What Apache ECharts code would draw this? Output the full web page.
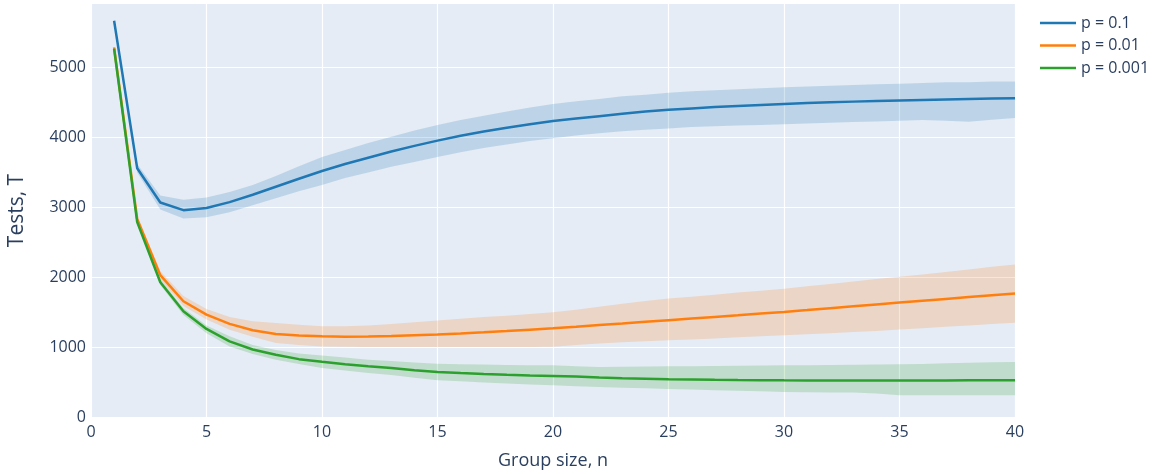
<!DOCTYPE html>
<html>
<head>
<meta charset="utf-8">
<title>Tests vs group size</title>
<script src="https://cdn.jsdelivr.net/npm/echarts@6/dist/echarts.min.js"></script>
<style>
  html, body { margin: 0; padding: 0; background: #ffffff; }
  #chart { width: 1158px; height: 474px; }
</style>
</head>
<body>
<div id="chart"></div>
<script>
// Group sizes n = 1 … 40
const groupSizes = [1,2,3,4,5,6,7,8,9,10,11,12,13,14,15,16,17,18,19,20,
                    21,22,23,24,25,26,27,28,29,30,31,32,33,34,35,36,37,38,39,40];

// p = 0.1 : mean number of tests and spread band
const meanP1 = [5670,3560,3070,2960,2990,3075,3180,3295,3410,3520,3620,3710,3800,3880,3955,4025,4085,4140,4190,4235,
                4270,4305,4340,4370,4395,4415,4435,4450,4465,4480,4492,4503,4513,4522,4530,4538,4545,4552,4557,4562];
const upperP1 = [5685,3620,3170,3110,3140,3220,3320,3450,3590,3720,3820,3920,4010,4100,4180,4250,4310,4370,4430,4480,
                 4520,4550,4590,4610,4640,4660,4675,4690,4705,4720,4730,4740,4750,4760,4770,4780,4790,4790,4800,4800];
const lowerP1 = [5655,3500,2970,2840,2860,2930,3030,3130,3230,3320,3420,3500,3580,3650,3720,3790,3850,3900,3950,3990,
                 4030,4060,4090,4110,4130,4150,4160,4170,4180,4190,4200,4210,4220,4230,4240,4250,4240,4225,4255,4280];

// p = 0.01
const meanP01 = [5290,2835,2030,1656,1465,1332,1241,1189,1165,1155,1150,1152,1160,1170,1180,1195,1212,1230,1250,1270,
                 1292,1315,1338,1362,1385,1408,1431,1455,1480,1504,1530,1557,1584,1611,1638,1664,1690,1716,1742,1768];
const upperP01 = [5300,2870,2090,1730,1546,1430,1370,1346,1320,1300,1300,1310,1330,1355,1380,1405,1430,1450,1475,1500,
                  1535,1576,1620,1660,1695,1720,1750,1780,1805,1834,1870,1905,1940,1975,2006,2040,2075,2110,2150,2182];
const lowerP01 = [5280,2800,1970,1590,1394,1250,1150,1060,1030,1010,1005,1000,1000,1000,1000,1000,1000,1000,1000,1005,
                  1030,1051,1070,1085,1098,1110,1125,1140,1155,1170,1185,1200,1215,1230,1251,1270,1290,1310,1330,1347];

// p = 0.001
const meanP001 = [5270,2788,1928,1513,1260,1083,966,890,828,790,755,725,700,670,645,630,617,605,595,587,
                  578,565,556,548,540,536,532,529,527,525,524,523,523,523,523,524,524,525,525,526];
const upperP001 = [5280,2810,1970,1560,1310,1155,1030,960,910,880,850,820,800,780,763,755,750,745,742,739,
                   728,716,720,724,726,728,730,732,736,740,742,745,748,752,755,760,770,778,784,788];
const lowerP001 = [5260,2760,1890,1460,1200,1010,900,820,760,700,665,630,600,560,525,510,495,480,465,453,
                   440,430,420,410,400,392,384,376,367,358,355,352,350,335,312,310,310,310,310,310];

const seriesNames = ['p = 0.1', 'p = 0.01', 'p = 0.001'];
const lineColors = ['#1f77b4', '#ff7f0e', '#2ca02c'];
const bandColors = ['rgba(31,119,180,0.2)', 'rgba(255,127,14,0.2)', 'rgba(44,160,44,0.2)'];

const xTicks = [0, 5, 10, 15, 20, 25, 30, 35, 40];
const yTicks = [0, 1000, 2000, 3000, 4000, 5000];

const pairs = (ys) => groupSizes.map((n, i) => [n, ys[i]]);

// Shaded band: one polygon running along the upper edge and back along the lower edge
function band(lower, upper, color) {
  return {
    type: 'custom',
    silent: true,
    z: 1,
    data: groupSizes.map((n, i) => [n, lower[i], upper[i]]),
    encode: { x: 0, y: [1, 2] },
    renderItem: function (params, api) {
      if (params.dataIndex !== 0) return null;
      const pts = [];
      for (let i = 0; i < groupSizes.length; i++) pts.push(api.coord([groupSizes[i], upper[i]]));
      for (let i = groupSizes.length - 1; i >= 0; i--) pts.push(api.coord([groupSizes[i], lower[i]]));
      return {
        type: 'polygon',
        shape: { points: pts },
        style: { fill: color, stroke: null }
      };
    }
  };
}

function meanLine(name, values, color) {
  return {
    name: name, type: 'line', data: pairs(values), symbol: 'none',
    lineStyle: { width: 2.5, color: color }, itemStyle: { color: color }, z: 3
  };
}

const textColor = '#2a3f5f';
const font = '"Open Sans", "Noto Sans", sans-serif';

const chart = echarts.init(document.getElementById('chart'), null, { renderer: 'canvas' });
chart.setOption({
  animation: false,
  backgroundColor: '#ffffff',
  textStyle: { fontFamily: font, color: textColor },
  grid: {
    left: 91, right: 143, top: 4, bottom: 57,
    outerBoundsMode: 'none', containLabel: false,
    show: true, backgroundColor: '#e5ecf6', borderWidth: 0
  },
  legend: {
    data: seriesNames,
    left: 1035, top: 10, orient: 'vertical',
    itemWidth: 36, itemHeight: 14, itemGap: 6.5,
    textStyle: { fontSize: 16, color: textColor, fontFamily: font },
    icon: 'path://M0,6 L36,6 L36,8.5 L0,8.5 Z'
  },
  xAxis: {
    type: 'value', min: xTicks[0], max: xTicks[xTicks.length - 1], interval: 5,
    name: 'Group size, n', nameLocation: 'middle', nameGap: 35,
    nameTextStyle: { fontSize: 18, color: textColor, fontFamily: font },
    axisLine: { show: false }, axisTick: { show: false },
    axisLabel: { fontSize: 16, color: textColor, margin: 7, fontFamily: font },
    splitLine: { show: true, lineStyle: { color: '#ffffff', width: 1.2 } }
  },
  yAxis: {
    type: 'value', min: yTicks[0], max: 5910, interval: 1000,
    name: 'Tests, T', nameLocation: 'middle', nameGap: 63,
    nameTextStyle: { fontSize: 21, color: textColor, fontFamily: font },
    axisLine: { show: false }, axisTick: { show: false },
    axisLabel: {
      fontSize: 16, color: textColor, margin: 5, fontFamily: font, showMaxLabel: false,
      formatter: (v) => (yTicks.includes(v) ? String(v) : '')
    },
    splitLine: { show: true, showMaxLine: false, lineStyle: { color: '#ffffff', width: 1.2 } }
  },
  series: [
    band(lowerP1, upperP1, bandColors[0]),
    band(lowerP01, upperP01, bandColors[1]),
    band(lowerP001, upperP001, bandColors[2]),
    meanLine(seriesNames[0], meanP1, lineColors[0]),
    meanLine(seriesNames[1], meanP01, lineColors[1]),
    meanLine(seriesNames[2], meanP001, lineColors[2])
  ]
});
</script>
</body>
</html>
